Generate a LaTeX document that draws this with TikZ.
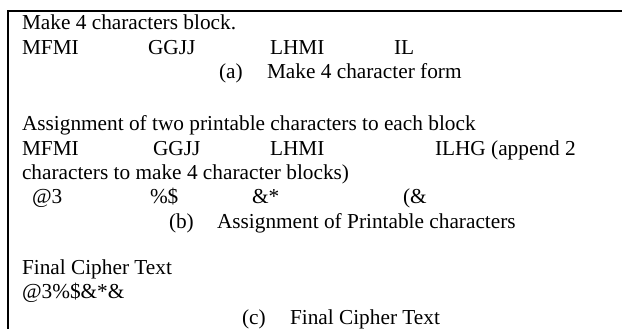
\documentclass[tikz,border=0pt]{standalone}
\usepackage{fontspec}
\newfontfamily\tnr{Liberation Serif}
\begin{document}
\begin{tikzpicture}[x=1pt,y=-1pt,
  txt/.style={anchor=base west,inner sep=0pt,outer sep=0pt,font=\tnr\fontsize{21.3}{24.5}\selectfont},
  rule/.style={line width=2pt}]
\useasboundingbox (0,0) rectangle (622,329);
\draw[rule] (622,10.8) -- (7.5,10.8) -- (7.5,329);
% (a)
\node[txt] (a1) at (22,30) {Make 4 characters block.};
\node[txt] (a2) at (22,54.5) {MFMI};
\node[txt] (a3) at (148,54.5) {GGJJ};
\node[txt] (a4) at (270,54.5) {LHMI};
\node[txt] (a5) at (394,54.5) {IL};
\node[txt] (a6) at (219,79) {(a)};
\node[txt] (a7) at (267,79) {Make 4 character form};
% (b)
\node[txt] (b1) at (22,130.5) {Assignment of two printable characters to each block};
\node[txt] (b2) at (22,155) {MFMI};
\node[txt] (b3) at (153,155) {GGJJ};
\node[txt] (b4) at (270,155) {LHMI};
\node[txt] (b5) at (435,155) {ILHG (append 2};
\node[txt] (b6) at (22,179.5) {characters to make 4 character blocks)};
\node[txt] (b7) at (32,204) {@3};
\node[txt] (b8) at (150,204) {\%\$};
\node[txt] (b9) at (252,204) {\&*};
\node[txt] (b10) at (403,204) {(\&};
\node[txt] (b11) at (169,228.5) {(b)};
\node[txt] (b12) at (217,228.5) {Assignment of Printable characters};
% (c)
\node[txt] (c1) at (22,274) {Final Cipher Text};
\node[txt] (c2) at (22,298.5) {@3\%\$\&*\&};
\node[txt] (c3) at (242,324) {(c)};
\node[txt] (c4) at (290,324) {Final Cipher Text};
\end{tikzpicture}
\end{document}
